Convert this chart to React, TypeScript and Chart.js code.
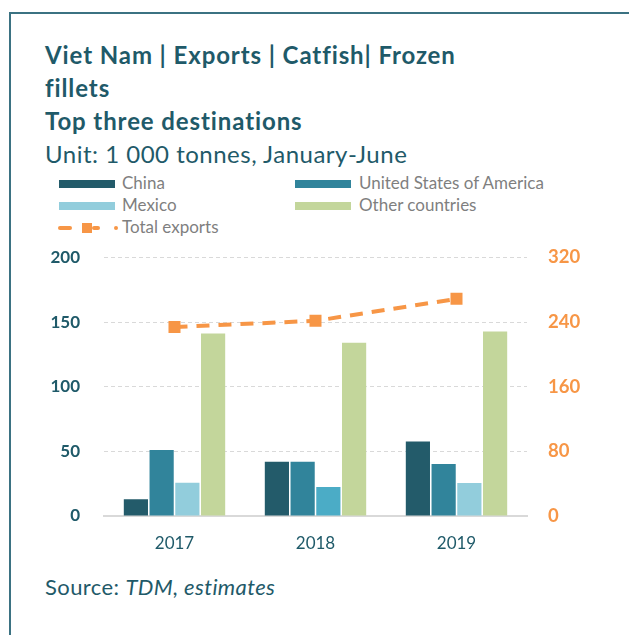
import React, { useEffect, useRef } from "react";
import { Chart, registerables } from "chart.js";

Chart.register(...registerables);

const categories = ["2017", "2018", "2019"];
const china = [13, 42, 57.7];
const usa = [51, 42, 40.2];
const mexico = [25.8, 22.4, 25.5];
const other = [141.2, 134, 142.8];
const totalExports = [234, 241.6, 268.8];
const leftTicks = [0, 50, 100, 150, 200];
const rightTicks = [0, 80, 160, 240, 320];

const FONT = "Lato, 'Open Sans', sans-serif";
const TEAL = "#1f5a69";
const ORANGE = "#f79646";
const C_CHINA = "#235b6a";
const C_USA = "#31849b";
const C_MEX = "#92cddc";
const C_MEX2 = "#4bacc6";
const C_OTHER = "#c3d69b";

export default function App() {
  const ref = useRef<HTMLCanvasElement | null>(null);

  useEffect(() => {
    if (!ref.current) return;
    const chart = new Chart(ref.current, {
      data: {
        labels: categories,
        datasets: [
          {
            type: "line",
            label: "Total exports",
            data: totalExports,
            yAxisID: "y1",
            borderColor: ORANGE,
            backgroundColor: ORANGE,
            borderWidth: 4,
            borderDash: [13, 9],
            pointStyle: "rect",
            pointRadius: 8.5,
            pointBorderWidth: 0,
            pointBackgroundColor: ORANGE,
            tension: 0,
            order: 0,
          },
          { type: "bar", label: "China", data: china, backgroundColor: C_CHINA, yAxisID: "y", order: 1 },
          { type: "bar", label: "United States of America", data: usa, backgroundColor: C_USA, yAxisID: "y", order: 1 },
          { type: "bar", label: "Mexico", data: mexico, backgroundColor: [C_MEX, C_MEX2, C_MEX], yAxisID: "y", order: 1 },
          { type: "bar", label: "Other countries", data: other, backgroundColor: C_OTHER, yAxisID: "y", order: 1 },
        ],
      } as any,
      options: {
        animation: false,
        responsive: false,
        maintainAspectRatio: false,
        layout: { padding: { top: 17.5, left: 0, right: 0, bottom: 0 } },
        datasets: { bar: { categoryPercentage: 0.73, barPercentage: 0.94 } } as any,
        plugins: { legend: { display: false }, tooltip: { enabled: false }, title: { display: false } },
        scales: {
          x: {
            grid: { display: false, drawTicks: false },
            border: { display: true, color: "#d9d9d9", width: 2 },
            ticks: { color: TEAL, font: { family: FONT, size: 17 }, padding: 17 },
            afterFit: (s: any) => { s.height = 49; },
          },
          y: {
            position: "left",
            min: 0,
            max: 200,
            afterBuildTicks: (s: any) => { s.ticks = leftTicks.map((v) => ({ value: v })); },
            grid: { color: "#d9d9d9", lineWidth: 1, drawTicks: false },
            border: { display: false, dash: [4, 3] },
            ticks: { color: TEAL, font: { family: FONT, size: 17, weight: "bold" }, padding: 24 },
            afterFit: (s: any) => { s.width = 104; s.paddingTop = 8; s.paddingBottom = 8; },
          },
          y1: {
            position: "right",
            min: 0,
            max: 320,
            afterBuildTicks: (s: any) => { s.ticks = rightTicks.map((v) => ({ value: v })); },
            grid: { display: false, drawTicks: false },
            border: { display: false },
            ticks: { color: ORANGE, font: { family: FONT, size: 18.5, weight: "bold" }, padding: 21 },
            afterFit: (s: any) => { s.width = 102; s.paddingTop = 8; s.paddingBottom = 8; },
          },
        } as any,
      },
    });
    return () => chart.destroy();
  }, []);

  const titleStyle: React.CSSProperties = {
    position: "absolute", left: 45, fontFamily: FONT, fontWeight: 700, fontSize: 24,
    lineHeight: "24px", letterSpacing: "0.9px", color: TEAL, whiteSpace: "nowrap", margin: 0,
  };
  const legendText: React.CSSProperties = {
    position: "absolute", fontFamily: FONT, fontSize: 17, lineHeight: "17px", color: "#7f7f7f", whiteSpace: "nowrap",
  };
  const box = (left: number, top: number, color: string): React.CSSProperties => ({
    position: "absolute", left, top, width: 56, height: 8, background: color,
  });

  return (
    <div style={{ position: "fixed", left: 0, top: 0, width: 629, height: 635, background: "#fff", overflow: "hidden" }}>
      <div style={{ position: "absolute", left: 9, top: 12, width: 700, height: 700, border: "2px solid #3b7282" }} />
      <div style={{ ...titleStyle, top: 43 }}>Viet Nam | Exports | Catfish| Frozen</div>
      <div style={{ ...titleStyle, top: 76 }}>fillets</div>
      <div style={{ ...titleStyle, top: 109 }}>Top three destinations</div>
      <div style={{ ...titleStyle, top: 142, fontWeight: 400, letterSpacing: "0.5px" }}>Unit: 1 000 tonnes, January-June</div>

      <div style={box(59, 180, C_CHINA)} />
      <div style={{ ...legendText, left: 122, top: 174 }}>China</div>
      <div style={box(295, 180, C_USA)} />
      <div style={{ ...legendText, left: 359, top: 174 }}>United States of America</div>
      <div style={box(59, 202, C_MEX)} />
      <div style={{ ...legendText, left: 122, top: 196 }}>Mexico</div>
      <div style={box(295, 202, C_OTHER)} />
      <div style={{ ...legendText, left: 359, top: 196 }}>Other countries</div>
      <div style={{ position: "absolute", left: 58, top: 226, width: 14, height: 4, background: ORANGE, borderRadius: 2 }} />
      <div style={{ position: "absolute", left: 82, top: 223, width: 10, height: 10, background: ORANGE }} />
      <div style={{ position: "absolute", left: 92, top: 226, width: 8, height: 4, background: ORANGE, borderRadius: 2 }} />
      <div style={{ position: "absolute", left: 114, top: 226, width: 4, height: 4, background: ORANGE, borderRadius: 2 }} />
      <div style={{ ...legendText, left: 122, top: 218 }}>Total exports</div>

      <canvas ref={ref} width={629} height={325} style={{ position: "absolute", left: 0, top: 240, width: 629, height: 325 }} />

      <div style={{ position: "absolute", left: 45, top: 575.5, fontFamily: FONT, fontSize: 22, lineHeight: "22px", letterSpacing: "0.4px", color: TEAL, whiteSpace: "nowrap" }}>
        Source: <i>TDM, estimates</i>
      </div>
    </div>
  );
}
